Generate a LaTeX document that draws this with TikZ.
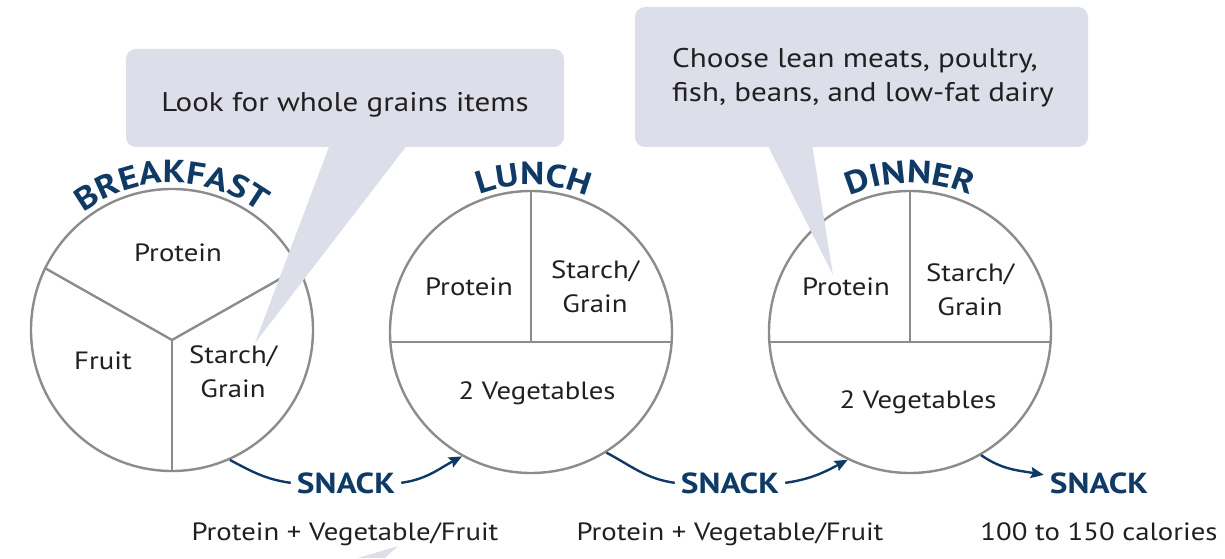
\documentclass[tikz,border=0pt]{standalone}
\usepackage{fontspec}
\setmainfont{PT Sans}[FakeStretch=1.15]
\usetikzlibrary{arrows.meta,decorations.text}
\definecolor{plateline}{RGB}{140,140,140}
\definecolor{navy}{RGB}{16,58,102}
\definecolor{bubble}{RGB}{220,223,234}
\definecolor{ink}{RGB}{35,31,32}
\newcommand\mealfont{\fontsize{32}{32}\selectfont\bfseries\color{navy}}

\begin{document}
\begin{tikzpicture}[x=1pt,y=1pt,
  plate/.style={circle, draw=plateline, line width=2.4pt, minimum size=282pt, inner sep=0pt},
  divider/.style={draw=plateline, line width=2.4pt, line join=round},
  food/.style={text=ink, font=\fontsize{25}{34}\selectfont, align=center, inner sep=0pt},
  tiptext/.style={text=ink, font=\fontsize{27}{34}\selectfont, inner sep=0pt},
  snacklabel/.style={text=navy, font=\fontsize{29}{29}\selectfont\bfseries, inner sep=6pt, anchor=base},
  snacknote/.style={text=ink, font=\fontsize{25}{25}\selectfont, inner sep=0pt, anchor=base},
  flow/.style={draw=navy, line width=2.4pt},
  flowtip/.style={-{Stealth[length=13pt,width=11pt,inset=2pt]}},
  bubblefill/.style={fill=bubble, draw=none},
  mealtitle/.style={decorate, decoration={text along path, text align=center, text={|\mealfont|#1}}},
]
\useasboundingbox (0,0) rectangle (1225,558);

% the three plates
\node[plate] (bf) at (172,228) {};
\node[plate] (ln) at (531,226) {};
\node[plate] (dn) at (910,226) {};

% breakfast: three sections
\coordinate (bfhub) at (172,218);
\draw[divider] (bf.154) -- (bfhub) -- (bf.26);
\draw[divider] (bfhub) -- (bf.south);

% lunch and dinner: half plate of vegetables, two quarters above
\draw[divider] (ln.184) -- (ln.-4);
\draw[divider] (ln.north) -- (ln.north |- ln.184);
\draw[divider] (dn.184) -- (dn.-4);
\draw[divider] (dn.north) -- (dn.north |- dn.184);

% speech bubbles
\path[bubblefill, rounded corners=10pt] (126,411) rectangle (564,509);
\path[bubblefill] (330,414) -- (408,414) -- (255,215) -- cycle;
\path[bubblefill, rounded corners=10pt] (635,411) rectangle (1088,551);
\path[bubblefill] (767,414) -- (812,414) -- (833,283) -- cycle;
\path[bubblefill] (358,0) -- (398,12) -- (385,0) -- cycle;

\node[tiptext, anchor=base] (note1) at (345,446) {Look for whole grains items};
\node[tiptext, anchor=base west, align=left] (note2) at (672,456)
  {Choose lean meats, poultry,\\fish, beans, and low-fat dairy};

% meal titles bent over the plates
\path[mealtitle=BREAKFAST] ([shift={(160:147)}]bf.center) arc[start angle=160, end angle=20, radius=147];
\path[mealtitle=LUNCH] ([shift={(160:147)}]ln.center) arc[start angle=160, end angle=18, radius=147];
\path[mealtitle=DINNER] ([shift={(160:149)}]dn.center) arc[start angle=160, end angle=20, radius=149];

% plate sections
\node[food] (bfprot) at (178,305) {Protein};
\node[food] (bffruit) at (103,197) {Fruit};
\node[food] (bfstarch) at (233,186) {Starch/\\Grain};
\node[food] (lnprot) at (469,271) {Protein};
\node[food] (lnstarch) at (595,271) {Starch/\\Grain};
\node[food] (lnveg) at (537,165) {2 Vegetables};
\node[food] (dnprot) at (846,271) {Protein};
\node[food] (dnstarch) at (970,268) {Starch/\\Grain};
\node[food] (dnveg) at (918,156) {2 Vegetables};

% snacks between meals
\node[snacklabel] (s1) at (346,65) {SNACK};
\node[snacklabel] (s2) at (730,65) {SNACK};
\node[snacklabel] (s3) at (1099,65) {SNACK};
\node[snacknote] (n1) at (345,18) {Protein + Vegetable/Fruit};
\node[snacknote] (n2) at (730,18) {Protein + Vegetable/Fruit};
\node[snacknote] (n3) at (1099,18) {100 to 150 calories};

\draw[flow] (bf.-66) to[out=-28, in=172] (s1.west);
\draw[flow, flowtip] (s1.east) to[out=8, in=208] (ln.-119);
\draw[flow] (ln.-58) to[out=-28, in=172] (s2.west);
\draw[flow, flowtip] (s2.east) to[out=8, in=208] (dn.-116);
\draw[flow, flowtip] (dn.-60) to[out=-35, in=170] ([yshift=8pt]s3.west);
\end{tikzpicture}
\end{document}
